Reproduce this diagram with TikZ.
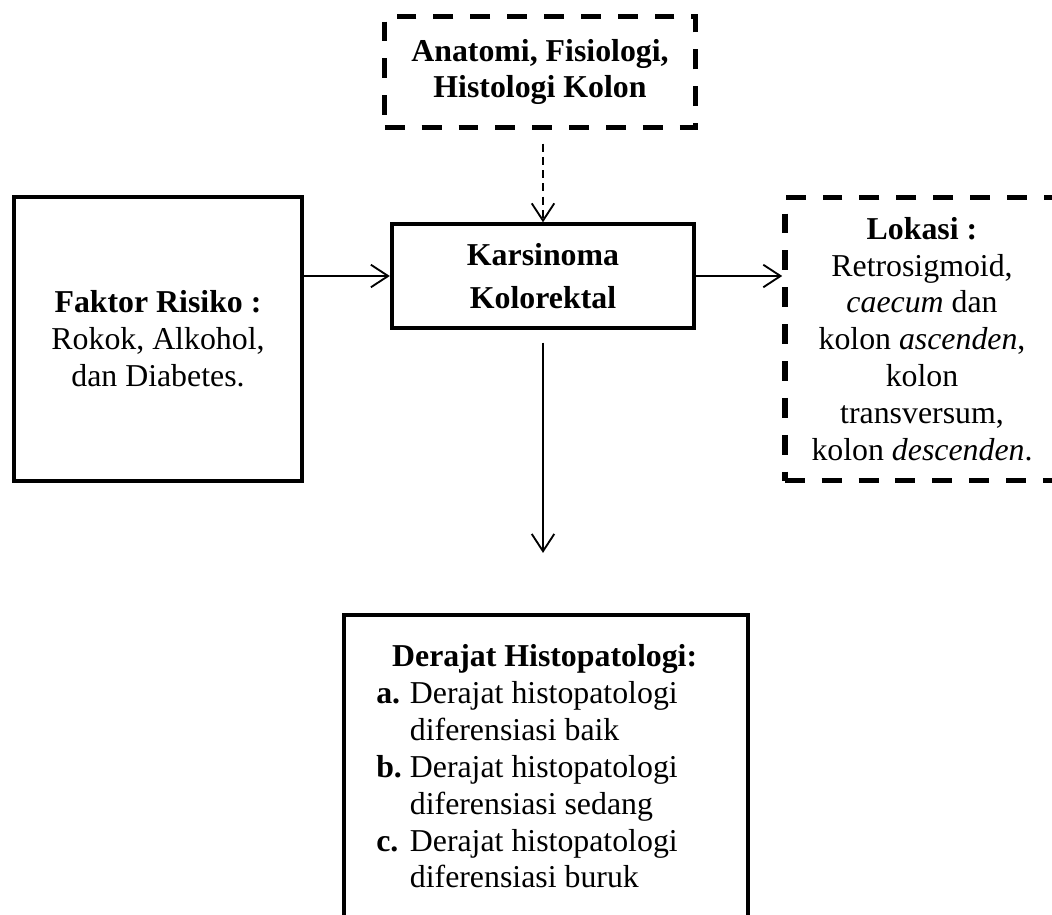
\documentclass[tikz,border=0pt]{standalone}
\usepackage{fontspec}
\setmainfont{Liberation Serif}
\usetikzlibrary{arrows.meta, positioning}
\tikzset{
  boxSolid/.style={rectangle, draw=black, line width=1.5pt, align=center, inner sep=4pt},
  boxDash/.style={rectangle, draw=black, line width=2pt, dash pattern=on 7.5pt off 6.4pt,
                  align=center, inner sep=4pt},
  arrowK/.style={-{Straight Barb[length=6.5pt, width=8.5pt]}, black, line width=0.7pt},
  arrowDash/.style={arrowK, dash pattern=on 3pt off 2pt},
}
\begin{document}
\begin{tikzpicture}[x=0.377pt, y=-0.377pt, font=\fontsize{12pt}{13.9pt}\selectfont]
    \useasboundingbox (0,0) rectangle (1052,914);
    \clip (0,0) rectangle (1052,914);
    \node[boxSolid, minimum width=114pt, minimum height=39pt] (karsinoma) at (543,276)
          {\textbf{Karsinoma}\\[2.2pt]\textbf{Kolorektal}};
    \node[boxDash, minimum width=117pt, minimum height=42pt] (anatomi) at (540,72)
          {\textbf{Anatomi, Fisiologi,}\\\textbf{Histologi Kolon}};
    \node[boxSolid, minimum width=108.5pt, minimum height=107pt] (faktor) at (158,339)
          {\textbf{Faktor Risiko :}\\Rokok, Alkohol,\\dan Diabetes.};
    \node[boxDash, minimum width=103.4pt, minimum height=106.8pt] (lokasi) at (922,339)
          {\textbf{Lokasi :}\\Retrosigmoid,\\\textit{caecum} dan\\kolon \textit{ascenden},\\kolon\\transversum,\\kolon \textit{descenden}.};
    \node[boxSolid, minimum width=152pt, minimum height=117pt] (derajat) at (546,770)
          {\begin{tabular}{@{}l@{\hspace{3pt}}l@{}}
             \multicolumn{2}{c}{\textbf{Derajat Histopatologi:}}\\
             \textbf{a.} & Derajat histopatologi\\
                         & diferensiasi baik\\
             \textbf{b.} & Derajat histopatologi\\
                         & diferensiasi sedang\\
             \textbf{c.} & Derajat histopatologi\\
                         & diferensiasi buruk
           \end{tabular}\hspace{1pt}};
    \draw[arrowK] (faktor.east |- karsinoma.west) -- (karsinoma.west);
    \draw[arrowK] (karsinoma.east) -- (karsinoma.east -| lokasi.west);
    \draw[arrowDash, shorten <=5pt] (karsinoma.north |- anatomi.south) -- (karsinoma.north);
    \draw[arrowK, shorten <=4.9pt, shorten >=22.6pt] (karsinoma.south) -- (karsinoma.south |- derajat.north);
\end{tikzpicture}
\end{document}
